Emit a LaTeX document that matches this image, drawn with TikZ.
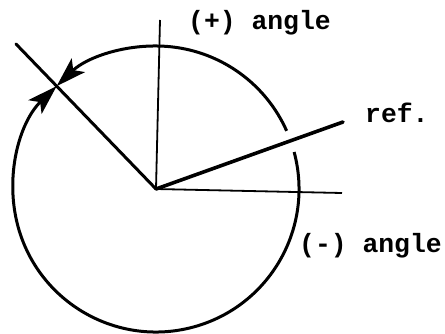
\documentclass[tikz,border=0pt]{standalone}
\usepackage{fontspec}
\newfontfamily\tw{Liberation Mono}
\usetikzlibrary{arrows.meta}
\tikzset{
  ray/.style={line width=3pt, line cap=round},
  axisline/.style={line width=1.8pt},
  refline/.style={line width=3.6pt, line cap=round},
  anglearc/.style={line width=3pt, -{Stealth[length=30pt, width=19pt, inset=7pt]}},
  lbl/.style={anchor=base west, inner sep=0pt, font=\tw\bfseries\fontsize{26.4}{30}\selectfont}
}
\begin{document}
\begin{tikzpicture}[x=1pt, y=1pt]
\useasboundingbox (0,0) rectangle (445,333);
\coordinate (O) at (156,144);
\coordinate (V) at (160,313);
\coordinate (H) at (342,140);
\coordinate (R) at (343,211);
\coordinate (L) at (16,289);
% axes
\draw[axisline] (O) -- (V);
\draw[axisline] (O) -- (H);
% reference and measured lines
\draw[refline] (O) -- (R);
\draw[ray] (O) -- (L);
% angle arcs
\draw[anglearc] (O) ++(24:143pt) arc[start angle=24, end angle=134, radius=143pt];
\draw[anglearc] (O) ++(15:143pt) arc[start angle=15, end angle=-226, radius=143pt];
% labels
\node[lbl] (pos) at (188,304) {(+) angle};
\node[lbl] (ref) at (365,211) {ref.};
\node[lbl] (neg) at (299,81) {(-) angle};
\end{tikzpicture}
\end{document}
